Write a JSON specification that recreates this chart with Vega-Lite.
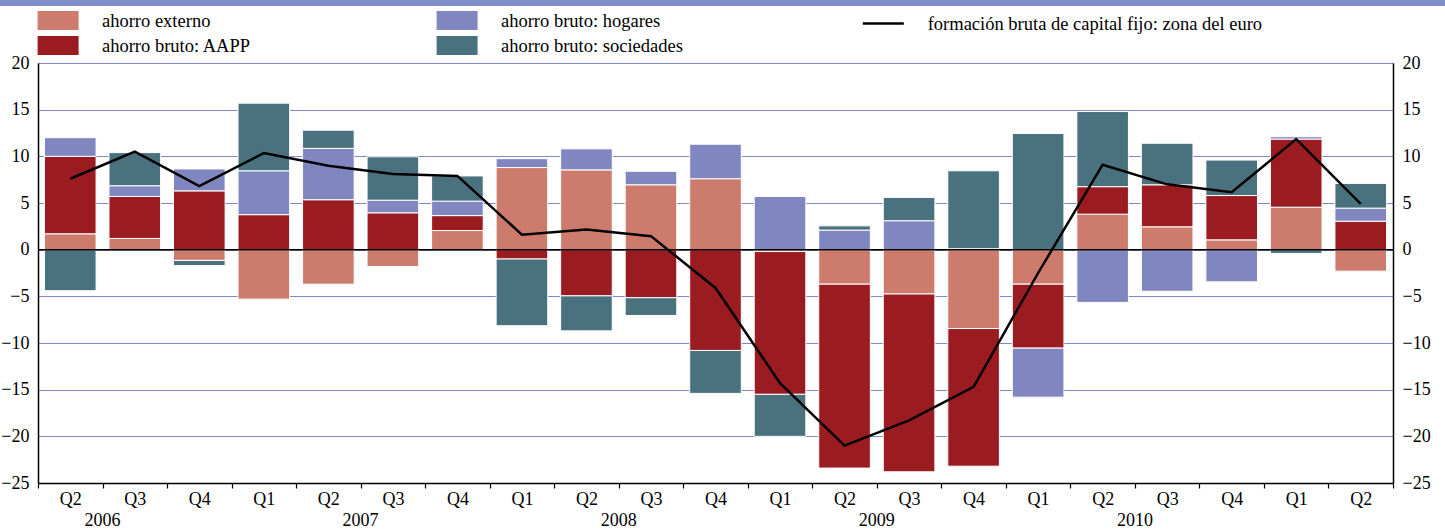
{
  "$schema": "https://vega.github.io/schema/vega-lite/v6.json",
  "width": 1355,
  "height": 420,
  "padding": 0,
  "background": "white",
  "config": {
    "font": "Liberation Serif",
    "view": {"stroke": null},
    "axis": {"labelFont": "Times New Roman", "labelFontSize": 18, "labelColor": "black", "title": null, "labelOverlap": false},
    "legend": {"labelFont": "Times New Roman", "labelFontSize": 18.5, "labelColor": "black", "labelLimit": 0}
  },
  "datasets": {
    "barras": [
      {"t": "2006-Q2", "serie": "ahorro externo", "v": 1.7},
      {"t": "2006-Q2", "serie": "ahorro bruto: AAPP", "v": 8.3},
      {"t": "2006-Q2", "serie": "ahorro bruto: hogares", "v": 2.0},
      {"t": "2006-Q2", "serie": "ahorro bruto: sociedades", "v": -4.4},
      {"t": "2006-Q3", "serie": "ahorro externo", "v": 1.2},
      {"t": "2006-Q3", "serie": "ahorro bruto: AAPP", "v": 4.5},
      {"t": "2006-Q3", "serie": "ahorro bruto: hogares", "v": 1.15},
      {"t": "2006-Q3", "serie": "ahorro bruto: sociedades", "v": 3.55},
      {"t": "2006-Q4", "serie": "ahorro externo", "v": -1.15},
      {"t": "2006-Q4", "serie": "ahorro bruto: AAPP", "v": 6.3},
      {"t": "2006-Q4", "serie": "ahorro bruto: hogares", "v": 2.35},
      {"t": "2006-Q4", "serie": "ahorro bruto: sociedades", "v": -0.55},
      {"t": "2007-Q1", "serie": "ahorro externo", "v": -5.3},
      {"t": "2007-Q1", "serie": "ahorro bruto: AAPP", "v": 3.75},
      {"t": "2007-Q1", "serie": "ahorro bruto: hogares", "v": 4.7},
      {"t": "2007-Q1", "serie": "ahorro bruto: sociedades", "v": 7.25},
      {"t": "2007-Q2", "serie": "ahorro externo", "v": -3.7},
      {"t": "2007-Q2", "serie": "ahorro bruto: AAPP", "v": 5.35},
      {"t": "2007-Q2", "serie": "ahorro bruto: hogares", "v": 5.5},
      {"t": "2007-Q2", "serie": "ahorro bruto: sociedades", "v": 1.95},
      {"t": "2007-Q3", "serie": "ahorro externo", "v": -1.8},
      {"t": "2007-Q3", "serie": "ahorro bruto: AAPP", "v": 3.95},
      {"t": "2007-Q3", "serie": "ahorro bruto: hogares", "v": 1.35},
      {"t": "2007-Q3", "serie": "ahorro bruto: sociedades", "v": 4.65},
      {"t": "2007-Q4", "serie": "ahorro externo", "v": 2.05},
      {"t": "2007-Q4", "serie": "ahorro bruto: AAPP", "v": 1.6},
      {"t": "2007-Q4", "serie": "ahorro bruto: hogares", "v": 1.55},
      {"t": "2007-Q4", "serie": "ahorro bruto: sociedades", "v": 2.7},
      {"t": "2008-Q1", "serie": "ahorro externo", "v": 8.8},
      {"t": "2008-Q1", "serie": "ahorro bruto: AAPP", "v": -1.0},
      {"t": "2008-Q1", "serie": "ahorro bruto: hogares", "v": 0.95},
      {"t": "2008-Q1", "serie": "ahorro bruto: sociedades", "v": -7.15},
      {"t": "2008-Q2", "serie": "ahorro externo", "v": 8.55},
      {"t": "2008-Q2", "serie": "ahorro bruto: AAPP", "v": -4.95},
      {"t": "2008-Q2", "serie": "ahorro bruto: hogares", "v": 2.25},
      {"t": "2008-Q2", "serie": "ahorro bruto: sociedades", "v": -3.75},
      {"t": "2008-Q3", "serie": "ahorro externo", "v": 6.95},
      {"t": "2008-Q3", "serie": "ahorro bruto: AAPP", "v": -5.15},
      {"t": "2008-Q3", "serie": "ahorro bruto: hogares", "v": 1.45},
      {"t": "2008-Q3", "serie": "ahorro bruto: sociedades", "v": -1.9},
      {"t": "2008-Q4", "serie": "ahorro externo", "v": 7.6},
      {"t": "2008-Q4", "serie": "ahorro bruto: AAPP", "v": -10.8},
      {"t": "2008-Q4", "serie": "ahorro bruto: hogares", "v": 3.7},
      {"t": "2008-Q4", "serie": "ahorro bruto: sociedades", "v": -4.6},
      {"t": "2009-Q1", "serie": "ahorro externo", "v": -0.2},
      {"t": "2009-Q1", "serie": "ahorro bruto: AAPP", "v": -15.3},
      {"t": "2009-Q1", "serie": "ahorro bruto: hogares", "v": 5.7},
      {"t": "2009-Q1", "serie": "ahorro bruto: sociedades", "v": -4.5},
      {"t": "2009-Q2", "serie": "ahorro externo", "v": -3.7},
      {"t": "2009-Q2", "serie": "ahorro bruto: AAPP", "v": -19.7},
      {"t": "2009-Q2", "serie": "ahorro bruto: hogares", "v": 2.1},
      {"t": "2009-Q2", "serie": "ahorro bruto: sociedades", "v": 0.45},
      {"t": "2009-Q3", "serie": "ahorro externo", "v": -4.75},
      {"t": "2009-Q3", "serie": "ahorro bruto: AAPP", "v": -19.05},
      {"t": "2009-Q3", "serie": "ahorro bruto: hogares", "v": 3.1},
      {"t": "2009-Q3", "serie": "ahorro bruto: sociedades", "v": 2.5},
      {"t": "2009-Q4", "serie": "ahorro externo", "v": -8.45},
      {"t": "2009-Q4", "serie": "ahorro bruto: AAPP", "v": -14.75},
      {"t": "2009-Q4", "serie": "ahorro bruto: hogares", "v": 0.1},
      {"t": "2009-Q4", "serie": "ahorro bruto: sociedades", "v": 8.35},
      {"t": "2010-Q1", "serie": "ahorro externo", "v": -3.7},
      {"t": "2010-Q1", "serie": "ahorro bruto: AAPP", "v": -6.85},
      {"t": "2010-Q1", "serie": "ahorro bruto: hogares", "v": -5.25},
      {"t": "2010-Q1", "serie": "ahorro bruto: sociedades", "v": 12.45},
      {"t": "2010-Q2", "serie": "ahorro externo", "v": 3.8},
      {"t": "2010-Q2", "serie": "ahorro bruto: AAPP", "v": 2.95},
      {"t": "2010-Q2", "serie": "ahorro bruto: hogares", "v": -5.65},
      {"t": "2010-Q2", "serie": "ahorro bruto: sociedades", "v": 8.05},
      {"t": "2010-Q3", "serie": "ahorro externo", "v": 2.45},
      {"t": "2010-Q3", "serie": "ahorro bruto: AAPP", "v": 4.5},
      {"t": "2010-Q3", "serie": "ahorro bruto: hogares", "v": -4.45},
      {"t": "2010-Q3", "serie": "ahorro bruto: sociedades", "v": 4.45},
      {"t": "2010-Q4", "serie": "ahorro externo", "v": 1.05},
      {"t": "2010-Q4", "serie": "ahorro bruto: AAPP", "v": 4.75},
      {"t": "2010-Q4", "serie": "ahorro bruto: hogares", "v": -3.45},
      {"t": "2010-Q4", "serie": "ahorro bruto: sociedades", "v": 3.8},
      {"t": "2011-Q1", "serie": "ahorro externo", "v": 4.55},
      {"t": "2011-Q1", "serie": "ahorro bruto: AAPP", "v": 7.3},
      {"t": "2011-Q1", "serie": "ahorro bruto: hogares", "v": 0.25},
      {"t": "2011-Q1", "serie": "ahorro bruto: sociedades", "v": -0.4},
      {"t": "2011-Q2", "serie": "ahorro externo", "v": -2.3},
      {"t": "2011-Q2", "serie": "ahorro bruto: AAPP", "v": 3.05},
      {"t": "2011-Q2", "serie": "ahorro bruto: hogares", "v": 1.4},
      {"t": "2011-Q2", "serie": "ahorro bruto: sociedades", "v": 2.65}
    ],
    "linea": [
      {"t": "2006-Q2", "fbcf": 7.6},
      {"t": "2006-Q3", "fbcf": 10.5},
      {"t": "2006-Q4", "fbcf": 6.8},
      {"t": "2007-Q1", "fbcf": 10.35},
      {"t": "2007-Q2", "fbcf": 9.0},
      {"t": "2007-Q3", "fbcf": 8.1},
      {"t": "2007-Q4", "fbcf": 7.9},
      {"t": "2008-Q1", "fbcf": 1.6},
      {"t": "2008-Q2", "fbcf": 2.15},
      {"t": "2008-Q3", "fbcf": 1.45},
      {"t": "2008-Q4", "fbcf": -4.1},
      {"t": "2009-Q1", "fbcf": -14.3},
      {"t": "2009-Q2", "fbcf": -21.0},
      {"t": "2009-Q3", "fbcf": -18.3},
      {"t": "2009-Q4", "fbcf": -14.7},
      {"t": "2010-Q1", "fbcf": -2.5},
      {"t": "2010-Q2", "fbcf": 9.1},
      {"t": "2010-Q3", "fbcf": 7.0},
      {"t": "2010-Q4", "fbcf": 6.15},
      {"t": "2011-Q1", "fbcf": 11.85},
      {"t": "2011-Q2", "fbcf": 4.9}
    ]
  },
  "layer": [
    {
      "data": {"name": "barras"},
      "transform": [
        {"calculate": "indexof(['ahorro externo','ahorro bruto: AAPP','ahorro bruto: hogares','ahorro bruto: sociedades'], datum.serie)", "as": "orden"}
      ],
      "mark": {"type": "bar", "width": {"band": 0.8}, "stroke": "white", "strokeWidth": 1},
      "encoding": {
        "x": {
          "field": "t", "type": "nominal",
          "scale": {"paddingInner": 0, "paddingOuter": 0},
          "axis": {
            "orient": "bottom", "labelAngle": 0,
            "labelExpr": "split(datum.value, '-')[1]",
            "tickBand": "extent", "ticks": true, "tickColor": "black", "tickWidth": 1.2, "tickSize": 5,
            "domainColor": "black", "domainWidth": 1.5, "labelPadding": 2, "grid": false
          }
        },
        "y": {
          "field": "v", "type": "quantitative", "stack": "zero",
          "scale": {"domain": [-25, 20], "nice": false, "zero": false},
          "axis": {
            "orient": "left", "values": [-25, -20, -15, -10, -5, 0, 5, 10, 15, 20],
            "grid": true, "gridColor": "#8088c8", "gridWidth": 1.2,
            "ticks": false, "domainColor": "black", "domainWidth": 1.5, "labelPadding": 9
          }
        },
        "color": {
          "field": "serie", "type": "nominal",
          "scale": {
            "domain": ["ahorro externo", "ahorro bruto: AAPP", "ahorro bruto: hogares", "ahorro bruto: sociedades"],
            "range": ["#cd7b6c", "#9b1c20", "#8087c0", "#4a727e"]
          },
          "legend": {
            "title": null, "orient": "none", "legendX": 10.6, "legendY": -52,
            "columns": 2, "columnPadding": 184, "rowPadding": 6,
            "symbolType": "M-2.158,-1H2.158V1H-2.158Z", "symbolSize": 361, "symbolStrokeWidth": 0,
            "labelOffset": 34.4
          }
        },
        "order": {"field": "orden", "type": "quantitative", "sort": "ascending"}
      }
    },
    {
      "data": {"values": [{}]},
      "mark": {"type": "rule", "color": "black", "strokeWidth": 1.5},
      "encoding": {"y": {"datum": 0, "type": "quantitative", "axis": null}}
    },
    {
      "data": {"name": "linea"},
      "mark": {"type": "line", "strokeWidth": 2.5},
      "encoding": {
        "x": {
          "field": "t", "type": "nominal",
          "axis": {
            "orient": "bottom", "labelAngle": 0, "labelOffset": 32.25,
            "labelExpr": "indexof(['2006-Q2','2007-Q2','2008-Q2','2009-Q2','2010-Q2'], datum.value) >= 0 ? slice(datum.value, 0, 4) : ''",
            "ticks": false, "domain": false, "grid": false, "labelPadding": 2, "offset": 26
          }
        },
        "y": {
          "field": "fbcf", "type": "quantitative",
          "scale": {"domain": [-25, 20], "nice": false, "zero": false},
          "axis": {
            "orient": "right", "values": [-25, -20, -15, -10, -5, 0, 5, 10, 15, 20],
            "grid": false, "ticks": false, "domainColor": "black", "domainWidth": 1.5, "labelPadding": 9
          }
        },
        "stroke": {
          "datum": "formación bruta de capital fijo: zona del euro", "type": "nominal",
          "scale": {"range": ["black"]},
          "legend": {
            "title": null, "orient": "none", "legendX": 834.3, "legendY": -50.5,
            "symbolType": "M-2.158,0H2.158", "symbolSize": 361, "symbolStrokeWidth": 2.5,
            "labelOffset": 33.4
          }
        }
      }
    },
    {
      "data": {"values": [{}]},
      "mark": {"type": "point", "opacity": 0},
      "encoding": {
        "fill": {
          "datum": 1, "type": "quantitative",
          "scale": {"domain": [0, 1], "range": ["#7f8fc7", "#7f8fc7"]},
          "legend": {
            "title": null, "orient": "none", "legendX": -38, "legendY": -63,
            "direction": "horizontal", "gradientLength": 1445, "gradientThickness": 6,
            "gradientStrokeWidth": 0, "labelOpacity": 0, "values": []
          }
        }
      }
    }
  ],
  "resolve": {"axis": {"x": "independent", "y": "independent"}}
}
